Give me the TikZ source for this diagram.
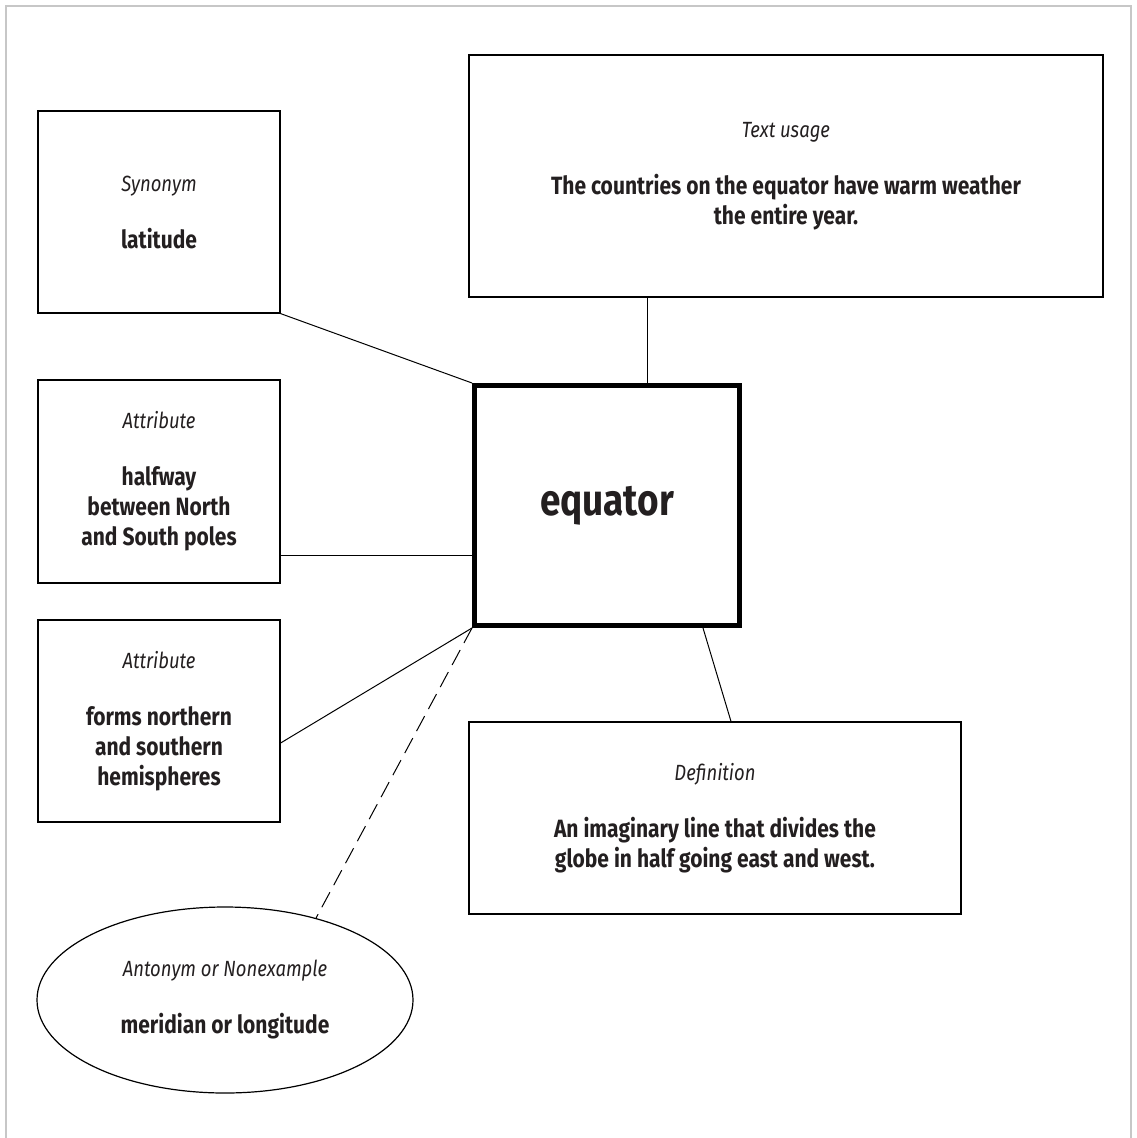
\documentclass[tikz,border=0pt]{standalone}
\usepackage{fontspec}
\setmainfont{Fira Sans}[FakeStretch=0.84]
\usetikzlibrary{shapes.geometric}
\definecolor{ink}{HTML}{231F20}
\newcommand\lab[1]{{\mdseries\itshape\fontsize{22}{30}\selectfont #1}}
\tikzset{
  box/.style={draw=black, line width=1.2pt, align=center, inner sep=0pt, text=ink,
    font={\bfseries\fontsize{25}{30}\selectfont}},
  link/.style={draw=black, line width=1pt},
}
\begin{document}
\begin{tikzpicture}[x=1pt,y=-1pt]
\path[use as bounding box] (0,0) rectangle (1137,1138);
\draw[line width=2pt, color=black!22] (6,1140) -- (6,6) -- (1131,6) -- (1131,1140);

\node[box, minimum width=242pt, minimum height=202pt] (syn) at (159,212)
  {\lab{Synonym}\\[27pt]latitude};
\node[box, minimum width=242pt, minimum height=203pt] (att1) at (159,481.5)
  {\lab{Attribute}\\[27pt]halfway\\between North\\and South poles};
\node[box, minimum width=242pt, minimum height=202pt] (att2) at (159,721)
  {\lab{Attribute}\\[27pt]forms northern\\and southern\\hemispheres};
\node[box, minimum width=634pt, minimum height=242pt] (tu) at (786,176)
  {\lab{Text usage}\\[27pt]The countries on the equator have warm weather\\the entire year.};
\node[box, line width=5pt, minimum width=265pt, minimum height=240pt,
  font={\bfseries\fontsize{44}{50}\selectfont}] (ctr) at (607,505.5) {equator};
\node[box, minimum width=492pt, minimum height=192pt] (def) at (715,818)
  {\lab{Definition}\\[27pt]An imaginary line that divides the\\globe in half going east and west.};
\node[box, ellipse, minimum width=376pt, minimum height=186pt] (ant) at (225,1000)
  {\lab{Antonym or Nonexample}\\[27pt]meridian or longitude};

\draw[link] (syn.south east) -- (ctr.north west);
\draw[link] ([yshift=28pt]att1.south east) -- ([yshift=28pt]att1.south east -| ctr.west);
\draw[link] ([yshift=-22pt]att2.east) -- (ctr.south west);
\draw[link] ([xshift=40pt]ctr.north) -- ([xshift=40pt]ctr.north |- tu.south);
\draw[link] ([xshift=96pt]ctr.south) -- ([xshift=16pt]def.north);
\draw[link, dash pattern=on 17pt off 8pt] (ctr.south west) -- (ant.42);
\end{tikzpicture}
\end{document}
